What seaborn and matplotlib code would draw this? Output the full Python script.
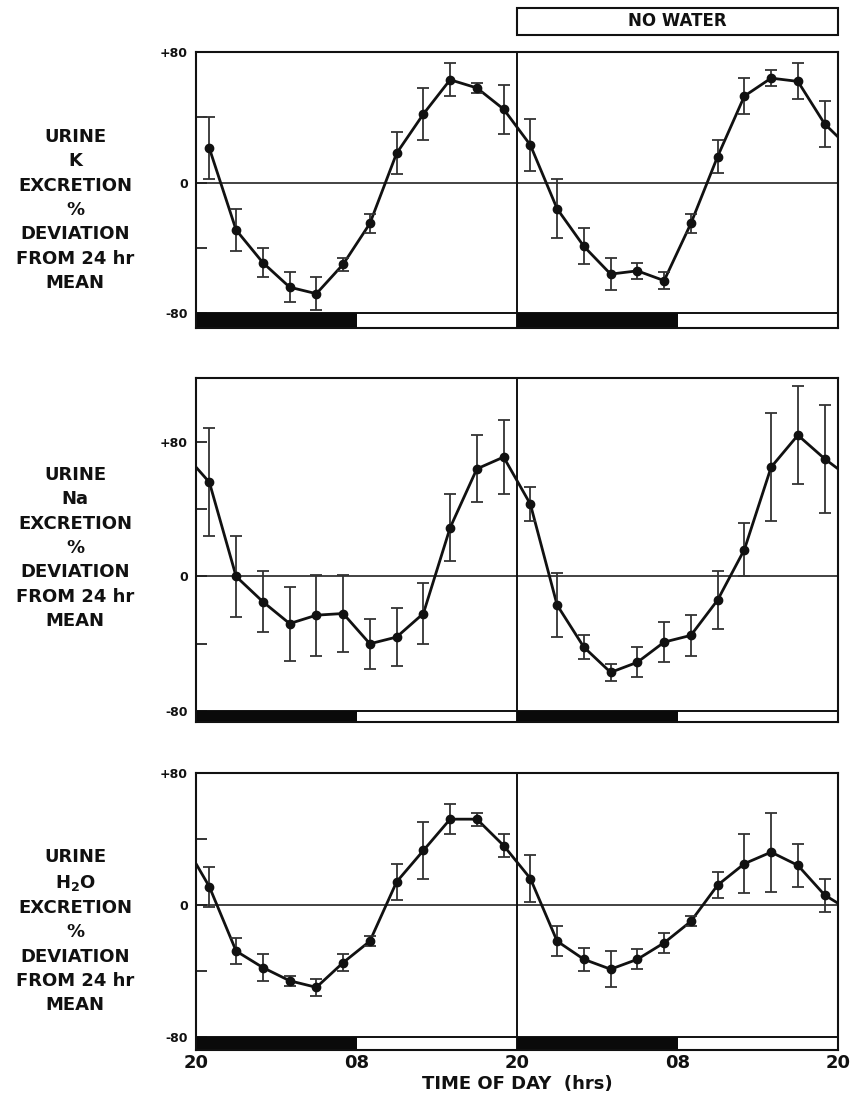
import matplotlib
matplotlib.use("Agg")
import matplotlib.pyplot as plt
from matplotlib.patches import Rectangle
import numpy as np
import pandas as pd
import seaborn as sns

# hours after 20:00 on day 1 (midpoints of 2-hr collections)
hours = list(range(1, 48, 2))

k_mean = [21, -29, -49, -64, -68, -50, -25, 18, 42, 63, 58, 45,
          23, -16, -39, -56, -54, -60, -25, 16, 53, 64, 62, 36]
k_err = [19, 13, 9, 9, 10, 4, 6, 13, 16, 10, 3, 15,
         16, 18, 11, 10, 5, 5, 6, 10, 11, 5, 11, 14]
k_edge = [None, 28]

na_mean = [56, 0, -15, -28, -23, -22, -40, -36, -22, 29, 64, 71,
           43, -17, -42, -57, -51, -39, -35, -14, 16, 65, 84, 70]
na_err = [32, 24, 18, 22, 24, 23, 15, 17, 18, 20, 20, 22,
          10, 19, 7, 5, 9, 12, 12, 17, 16, 32, 29, 32]
na_edge = [65, 64]

h2o_mean = [11, -28, -38, -46, -50, -35, -22, 14, 33, 52, 52, 36,
            16, -22, -33, -39, -33, -23, -10, 12, 25, 32, 24, 6]
h2o_err = [12, 8, 8, 3, 5, 5, 3, 11, 17, 9, 4, 7,
           14, 9, 7, 11, 6, 6, 3, 8, 18, 24, 13, 10]
h2o_edge = [25, 1]

panel_labels = [
    "URINE\nK\nEXCRETION\n%\nDEVIATION\nFROM 24 hr\nMEAN",
    "URINE\nNa\nEXCRETION\n%\nDEVIATION\nFROM 24 hr\nMEAN",
    "URINE\nH$_2$O\nEXCRETION\n%\nDEVIATION\nFROM 24 hr\nMEAN",
]
x_ticks = [0, 12, 24, 36, 48]
x_ticklabels = ["20", "08", "20", "08", "20"]
y_ticks = [-80, -40, 0, 40, 80]
y_ticklabels = ["-80", "", "0", "", "+80"]

sns.set_style("ticks")
plt.rcParams["font.family"] = ["DejaVu Sans"]
plt.rcParams["font.weight"] = "bold"
plt.rcParams["text.color"] = "#111111"
plt.rcParams["xtick.color"] = "#111111"
plt.rcParams["ytick.color"] = "#111111"
plt.rcParams["axes.labelcolor"] = "#111111"

fig = plt.figure(figsize=(8.51, 11.09), dpi=100)
left, width = 196 / 851, 642 / 851
positions = [(52, 328), (378, 722), (773, 1050)]
ylims = [(-89, 80), (-86.5, 118), (-88, 80)]
label_centers = [210, 548, 931]
series = [(k_mean, k_err, k_edge), (na_mean, na_err, na_edge),
          (h2o_mean, h2o_err, h2o_edge)]

axes = []
for i, ((top, bot), ylim, (mean, err, edge)) in enumerate(
        zip(positions, ylims, series)):
    ax = fig.add_axes([left, 1 - bot / 1109, width, (bot - top) / 1109])
    axes.append(ax)

    # line incl. edge continuation
    lx, ly = list(hours), list(mean)
    if edge[0] is not None:
        lx = [0] + lx
        ly = [edge[0]] + ly
    if edge[1] is not None:
        lx = lx + [48]
        ly = ly + [edge[1]]
    df = pd.DataFrame({"hour": lx, "value": ly})
    sns.lineplot(data=df, x="hour", y="value", ax=ax, color="#111111",
                 linewidth=2.0, zorder=4)
    ax.errorbar(hours, mean, yerr=err, fmt="o", color="#111111",
                ecolor="#333333", elinewidth=1.3, capsize=4.5,
                capthick=1.3, markersize=6, zorder=5)

    ax.axhline(0, color="#222222", linewidth=1.2, zorder=1)
    ax.axhline(-80, color="#111111", linewidth=1.4, zorder=1)
    ax.axvline(24, color="#111111", linewidth=1.4, zorder=1)
    for start in [0, 24]:
        ax.fill_between([start, start + 12], ylim[0], -80,
                        color="#0a0a0a", linewidth=0, zorder=2)

    ax.set_xlim(0, 48)
    ax.set_ylim(*ylim)
    ax.set_yticks(y_ticks)
    ax.set_yticklabels(y_ticklabels, fontsize=9, fontweight="bold")
    ax.tick_params(axis="y", direction="in", length=8, width=1.2, pad=6)
    ax.set_xticks(x_ticks)
    if i == 2:
        ax.set_xticklabels(x_ticklabels, fontsize=13, fontweight="bold")
        ax.set_xlabel("TIME OF DAY  (hrs)", fontsize=13, fontweight="bold",
                      labelpad=2)
    else:
        ax.set_xticklabels([])
        ax.set_xlabel("")
    ax.tick_params(axis="x", length=0, pad=3)
    ax.set_ylabel("")
    for sp in ax.spines.values():
        sp.set_linewidth(1.5)
        sp.set_color("#111111")

    fig.text(75 / 851, 1 - label_centers[i] / 1109, panel_labels[i],
             ha="center", va="center", multialignment="center",
             fontsize=13, fontweight="bold", linespacing=1.45)

# NO WATER box above the second day
ax0 = axes[0]
ax0.add_patch(Rectangle((24, 1.062), 24, 0.098,
                        transform=ax0.get_xaxis_transform(), clip_on=False,
                        facecolor="white", edgecolor="#111111", linewidth=1.5))
ax0.text(36, 1.111, "NO WATER", transform=ax0.get_xaxis_transform(),
         ha="center", va="center", fontsize=12, fontweight="bold")

fig.savefig("out.png", dpi=100)
